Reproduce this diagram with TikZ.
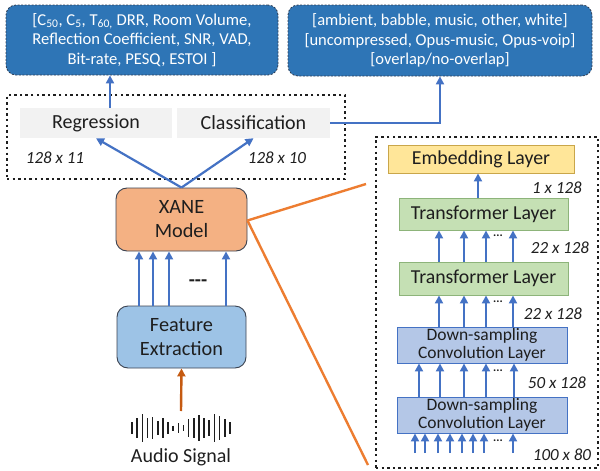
\documentclass[tikz,border=0pt]{standalone}
\usepackage{fontspec}
\setmainfont{Carlito}
\usetikzlibrary{arrows.meta,calc}

\definecolor{outblue}{HTML}{2E75B6}
\definecolor{outedge}{HTML}{2F3E55}
\definecolor{headgray}{HTML}{F2F2F2}
\definecolor{arrblue}{HTML}{4472C4}
\definecolor{xanefill}{HTML}{F4B183}
\definecolor{boxedge}{HTML}{3B4250}
\definecolor{featfill}{HTML}{9DC3E6}
\definecolor{orangeline}{HTML}{ED7D31}
\definecolor{orangearr}{HTML}{C55A11}
\definecolor{embfill}{HTML}{FFE699}
\definecolor{embedge}{HTML}{C9A64A}
\definecolor{trfill}{HTML}{C5E0B4}
\definecolor{tredge}{HTML}{8DB47A}
\definecolor{dsfill}{HTML}{B4C7E7}
\definecolor{dsedge}{HTML}{4472C4}
\definecolor{ink}{HTML}{1E1E1E}

\tikzset{
  outbox/.style={draw=outedge, line width=0.8pt, dash pattern=on 2pt off 1.5pt,
    fill=outblue, rounded corners=10pt, text=white, align=center, inner sep=0pt,
    font=\fontsize{16.6}{19.5}\selectfont},
  headbox/.style={fill=headgray, inner sep=0pt, text=ink,
    font=\fontsize{20}{22}\selectfont},
  group/.style={draw=ink, line width=2.4pt, dash pattern=on 2.4pt off 3.2pt, inner sep=0pt},
  modelbox/.style={draw=boxedge, line width=0.9pt, rounded corners=11pt, align=center,
    inner sep=0pt, text=ink, font=\fontsize{20.3}{24}\selectfont},
  layerbox/.style={line width=0.9pt, align=center, inner sep=0pt, text=ink},
  dimlabel/.style={text=ink, font=\fontsize{17}{19}\selectfont\itshape, inner sep=0pt},
  arr/.style={draw=arrblue, line width=2.2pt, -{Triangle[width=8pt,length=8pt]}},
  link/.style={draw=orangeline, line width=2.4pt},
  moredots/.style={text=ink, inner sep=0pt, font=\fontsize{12}{12}\selectfont\bfseries},
}

\begin{document}
\begin{tikzpicture}[x=1pt,y=-1pt]
\useasboundingbox (0,0) rectangle (600,471);

% output descriptions
\node[outbox, minimum width=272pt, minimum height=70pt] (regout) at (142,40)
  {[C\textsubscript{50}, C\textsubscript{5}, T\textsubscript{60,} DRR, Room Volume,\\
   Reflection Coefficient, SNR, VAD,\\ Bit-rate, PESQ, ESTOI ]};
\node[outbox, font=\fontsize{16.5}{19.5}\selectfont, minimum width=304pt, minimum height=71pt] (clsout) at (440,40.5)
  {{[ambient, babble, music, other, white]}\\
   {[uncompressed, Opus-music, Opus-voip]}\\ {[overlap/no-overlap]}};

% prediction heads
\node[group, minimum width=338pt, minimum height=84pt] (heads) at (176,137) {};
\node[headbox, minimum width=152pt, minimum height=30pt] (reg) at (96,123) {Regression};
\node[headbox, minimum width=153pt, minimum height=30pt] (cls) at (253.5,123) {Classification};
\node[dimlabel] (dreg) at (55,158) {128 x 11};
\node[dimlabel] (dcls) at (277,158) {128 x 10};

% main model path
\node[modelbox, fill=xanefill, minimum width=131pt, minimum height=63pt] (xane) at (181.5,219.5) {XANE\\Model};
\node[modelbox, fill=featfill, minimum width=129pt, minimum height=62pt] (feat) at (181.5,337) {Feature\\Extraction};
\node[text=ink, inner sep=0pt, font=\fontsize{20}{22}\selectfont] (audio) at (181,457) {Audio Signal};
\coordinate (wave) at (181,411);
\node[text=ink, inner sep=0pt, font=\fontsize{20}{20}\selectfont\bfseries] (featdots) at (198,283) {-{}-{}-};

% waveform glyph
\foreach \i/\h in {0/6,1/10,2/14,3/10,4/11,5/7,6/10,7/6,8/2.5,9/5,10/3,11/9,12/10,13/13,14/10,15/8,16/14,17/12,18/9,19/6}{
  \draw[ink, line width=1.6pt] ({132+\i*5.15},{428-\h}) -- ({132+\i*5.15},{428+\h});
}

% encoder detail
\node[group, minimum width=222pt, minimum height=331pt] (enc) at (487,302.5) {};
\node[layerbox, draw=embedge, fill=embfill, minimum width=186pt, minimum height=28pt,
  font=\fontsize{19.8}{21}\selectfont] (emb) at (481,159) {Embedding Layer};
\node[layerbox, draw=tredge, fill=trfill, minimum width=169pt, minimum height=32pt,
  font=\fontsize{19.8}{21}\selectfont] (tra) at (483.5,214) {Transformer Layer};
\node[layerbox, draw=tredge, fill=trfill, minimum width=169pt, minimum height=33pt,
  font=\fontsize{19.8}{21}\selectfont] (trb) at (483.5,278.5) {Transformer Layer};
\node[layerbox, draw=dsedge, fill=dsfill, minimum width=170pt, minimum height=36pt,
  font=\fontsize{17.5}{18}\selectfont] (dsa) at (482,345) {Down-sampling\\Convolution Layer};
\node[layerbox, draw=dsedge, fill=dsfill, minimum width=170pt, minimum height=36pt,
  font=\fontsize{17.5}{18}\selectfont] (dsb) at (482,415) {Down-sampling\\Convolution Layer};
\coordinate (encin) at (482,453);

\node[dimlabel] (d1) at (557,188) {1 x 128};
\node[dimlabel] (d2) at (560,248) {22 x 128};
\node[dimlabel] (d3) at (553,314) {22 x 128};
\node[dimlabel] (d4) at (557,383) {50 x 128};
\node[dimlabel] (d5) at (562,455) {100 x 80};

\node[moredots] at (498,236) {...};
\node[moredots] at (498,302) {...};
\node[moredots] at (498,370.5) {...};
\node[moredots] at (498,441) {...};

% connectors
\draw[arr] (reg.north -| 110,0) -- (regout.south -| 110,0);
\draw[arr] (cls.east) -- (cls.east -| clsout.south) -- (clsout.south);
\draw[arr] (xane.north) -- (reg.south);
\draw[arr] (xane.north) -- (cls.south);
\foreach \x in {139,153,169,226}
  \draw[arr] (feat.north -| \x,0) -- (xane.south -| \x,0);
\draw[draw=orangearr, line width=2.4pt, -{Triangle[width=8pt,length=8pt]}] (wave) -- (feat.south);

\draw[arr] (tra.north -| 478,0) -- (emb.south -| 478,0);
\foreach \x in {439,464,486,513}{
  \draw[arr] (trb.north -| \x,0) -- (tra.south -| \x,0);
  \draw[arr] (dsa.north -| \x,0) -- (trb.south -| \x,0);
}
\foreach \x in {419,440,464,486,514}
  \draw[arr] (dsb.north -| \x,0) -- (dsa.south -| \x,0);
\foreach \x in {415,425,438,450,462,473,484,513}
  \draw[arr] (encin -| \x,0) -- (dsb.south -| \x,0);

% zoom-in links
\coordinate (linkA) at (366,184);
\coordinate (linkB) at (368,465);
\draw[link] (xane.east) ++(0,1) coordinate (xr) -- (linkA);
\draw[link] (xr) -- (linkB);
\end{tikzpicture}
\end{document}
